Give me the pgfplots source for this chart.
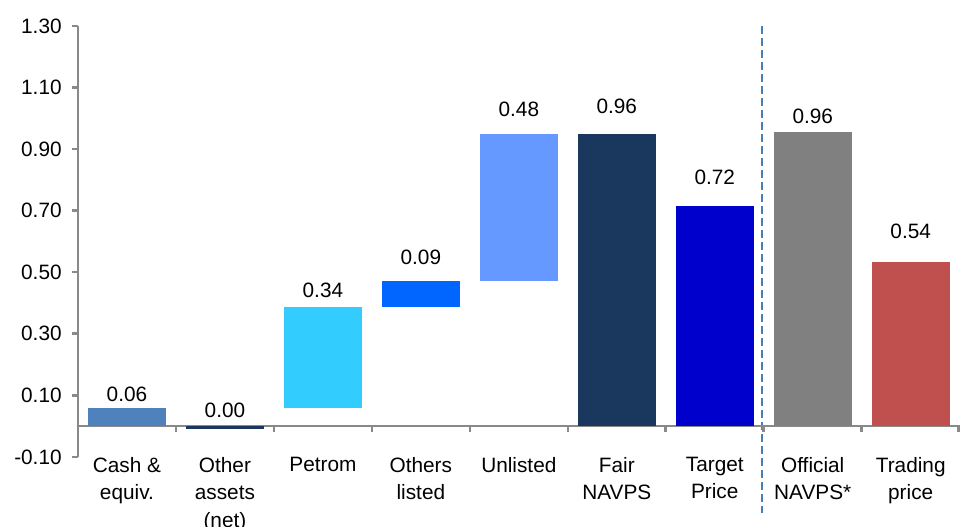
\documentclass[border=0pt]{standalone}
\usepackage{pgfplots}
\pgfplotsset{compat=1.18}
\usepackage{pgfplotstable}
\usepackage{fontspec}
\setmainfont{Liberation Sans}
\definecolor{axgray}{HTML}{898989}
\definecolor{cCash}{HTML}{4F81BD}
\definecolor{cOther}{HTML}{1A375D}
\definecolor{cPetrom}{HTML}{33CCFF}
\definecolor{cListed}{HTML}{0066FF}
\definecolor{cUnlisted}{HTML}{6699FF}
\definecolor{cFair}{HTML}{1A375D}
\definecolor{cTarget}{HTML}{0000CC}
\definecolor{cOfficial}{HTML}{808080}
\definecolor{cTrading}{HTML}{C0504D}
\definecolor{cDash}{HTML}{4A7EBB}
\pgfplotstableread{
x base cash other petrom listed unlisted fair target official trading
0 0     0.058 0      0     0     0     0     0     0     0
1 0     0     -0.008 0     0     0     0     0     0     0
2 0.058 0     0      0.330 0     0     0     0     0     0
3 0.388 0     0      0     0.084 0     0     0     0     0
4 0.472 0     0      0     0     0.478 0     0     0     0
5 0     0     0      0     0     0     0.950 0     0     0
6 0     0     0      0     0     0     0     0.716 0     0
7 0     0     0      0     0     0     0     0     0.956 0
8 0     0     0      0     0     0     0     0     0     0.534
}\wf
\begin{document}
\fontsize{10.4pt}{13.75pt}\selectfont
\begin{tikzpicture}
\begin{axis}[
  scale only axis,
  width=441pt, height=215.5pt,
  xmin=-0.5, xmax=8.5, ymin=-0.1, ymax=1.3,
  ybar stacked, bar width=0.8,
  axis y line*=left,
  axis x line*=bottom,
  x axis line style={draw=none},
  y axis line style={draw=axgray, line width=1.3pt},
  xtick={0,...,8},
  xtick style={draw=none},
  xticklabels={Cash \&\\equiv., Other\\assets\\(net), Petrom, Others\\listed, Unlisted, Fair\\NAVPS, Target\\Price, Official\\NAVPS*, Trading\\price},
  xticklabel style={align=center, font=\fontsize{10.4pt}{13.75pt}\selectfont, yshift=6.5pt, overlay},
  ytick={-0.1,0.1,0.3,0.5,0.7,0.9,1.1,1.3},
  ytick style={draw=axgray, line width=1.3pt},
  tick align=outside,
  major tick length=3pt,
  /pgf/number format/fixed,
  /pgf/number format/fixed zerofill,
  /pgf/number format/precision=2,
  /pgf/number format/assume math mode=true,
  yticklabel style={font=\fontsize{10.4pt}{12pt}\selectfont, xshift=-1.5pt},
  clip=false,
  every axis plot/.append style={draw=none},
]
\addplot[fill=none] table[x=x,y=base] {\wf};
\addplot[fill=cCash] table[x=x,y=cash] {\wf};
\addplot[fill=cOther] table[x=x,y=other] {\wf};
\addplot[fill=cPetrom] table[x=x,y=petrom] {\wf};
\addplot[fill=cListed] table[x=x,y=listed] {\wf};
\addplot[fill=cUnlisted] table[x=x,y=unlisted] {\wf};
\addplot[fill=cFair] table[x=x,y=fair] {\wf};
\addplot[fill=cTarget] table[x=x,y=target] {\wf};
\addplot[fill=cOfficial] table[x=x,y=official] {\wf};
\addplot[fill=cTrading] table[x=x,y=trading] {\wf};
% zero line with category boundary ticks
\draw[axgray, line width=1.3pt] (axis cs:-0.5,0) -- (axis cs:8.5,0);
\draw[axgray, line width=1.3pt]
  (axis cs:0.5,0) -- ([yshift=-3pt]axis cs:0.5,0)
  (axis cs:1.5,0) -- ([yshift=-3pt]axis cs:1.5,0)
  (axis cs:2.5,0) -- ([yshift=-3pt]axis cs:2.5,0)
  (axis cs:3.5,0) -- ([yshift=-3pt]axis cs:3.5,0)
  (axis cs:4.5,0) -- ([yshift=-3pt]axis cs:4.5,0)
  (axis cs:5.5,0) -- ([yshift=-3pt]axis cs:5.5,0)
  (axis cs:6.5,0) -- ([yshift=-3pt]axis cs:6.5,0)
  (axis cs:7.5,0) -- ([yshift=-3pt]axis cs:7.5,0)
  (axis cs:8.49,0) -- ([yshift=-3pt]axis cs:8.49,0);
% separator
\draw[cDash, line width=1pt, dash pattern=on 4pt off 2pt] (axis cs:6.48,1.30) -- (axis cs:6.48,-0.284);
% value labels
\node at (axis cs:0,0.104) {0.06};
\node at (axis cs:1,0.050) {0.00};
\node at (axis cs:2,0.440) {0.34};
\node at (axis cs:3,0.548) {0.09};
\node at (axis cs:4,1.030) {0.48};
\node at (axis cs:5,1.040) {0.96};
\node at (axis cs:6,0.807) {0.72};
\node at (axis cs:7,1.008) {0.96};
\node at (axis cs:8,0.634) {0.54};
\end{axis}
\path[use as bounding box] ([xshift=-39pt,yshift=-35pt]current axis.south west) rectangle ([xshift=0.5pt,yshift=13pt]current axis.north east);
\end{tikzpicture}
\end{document}
